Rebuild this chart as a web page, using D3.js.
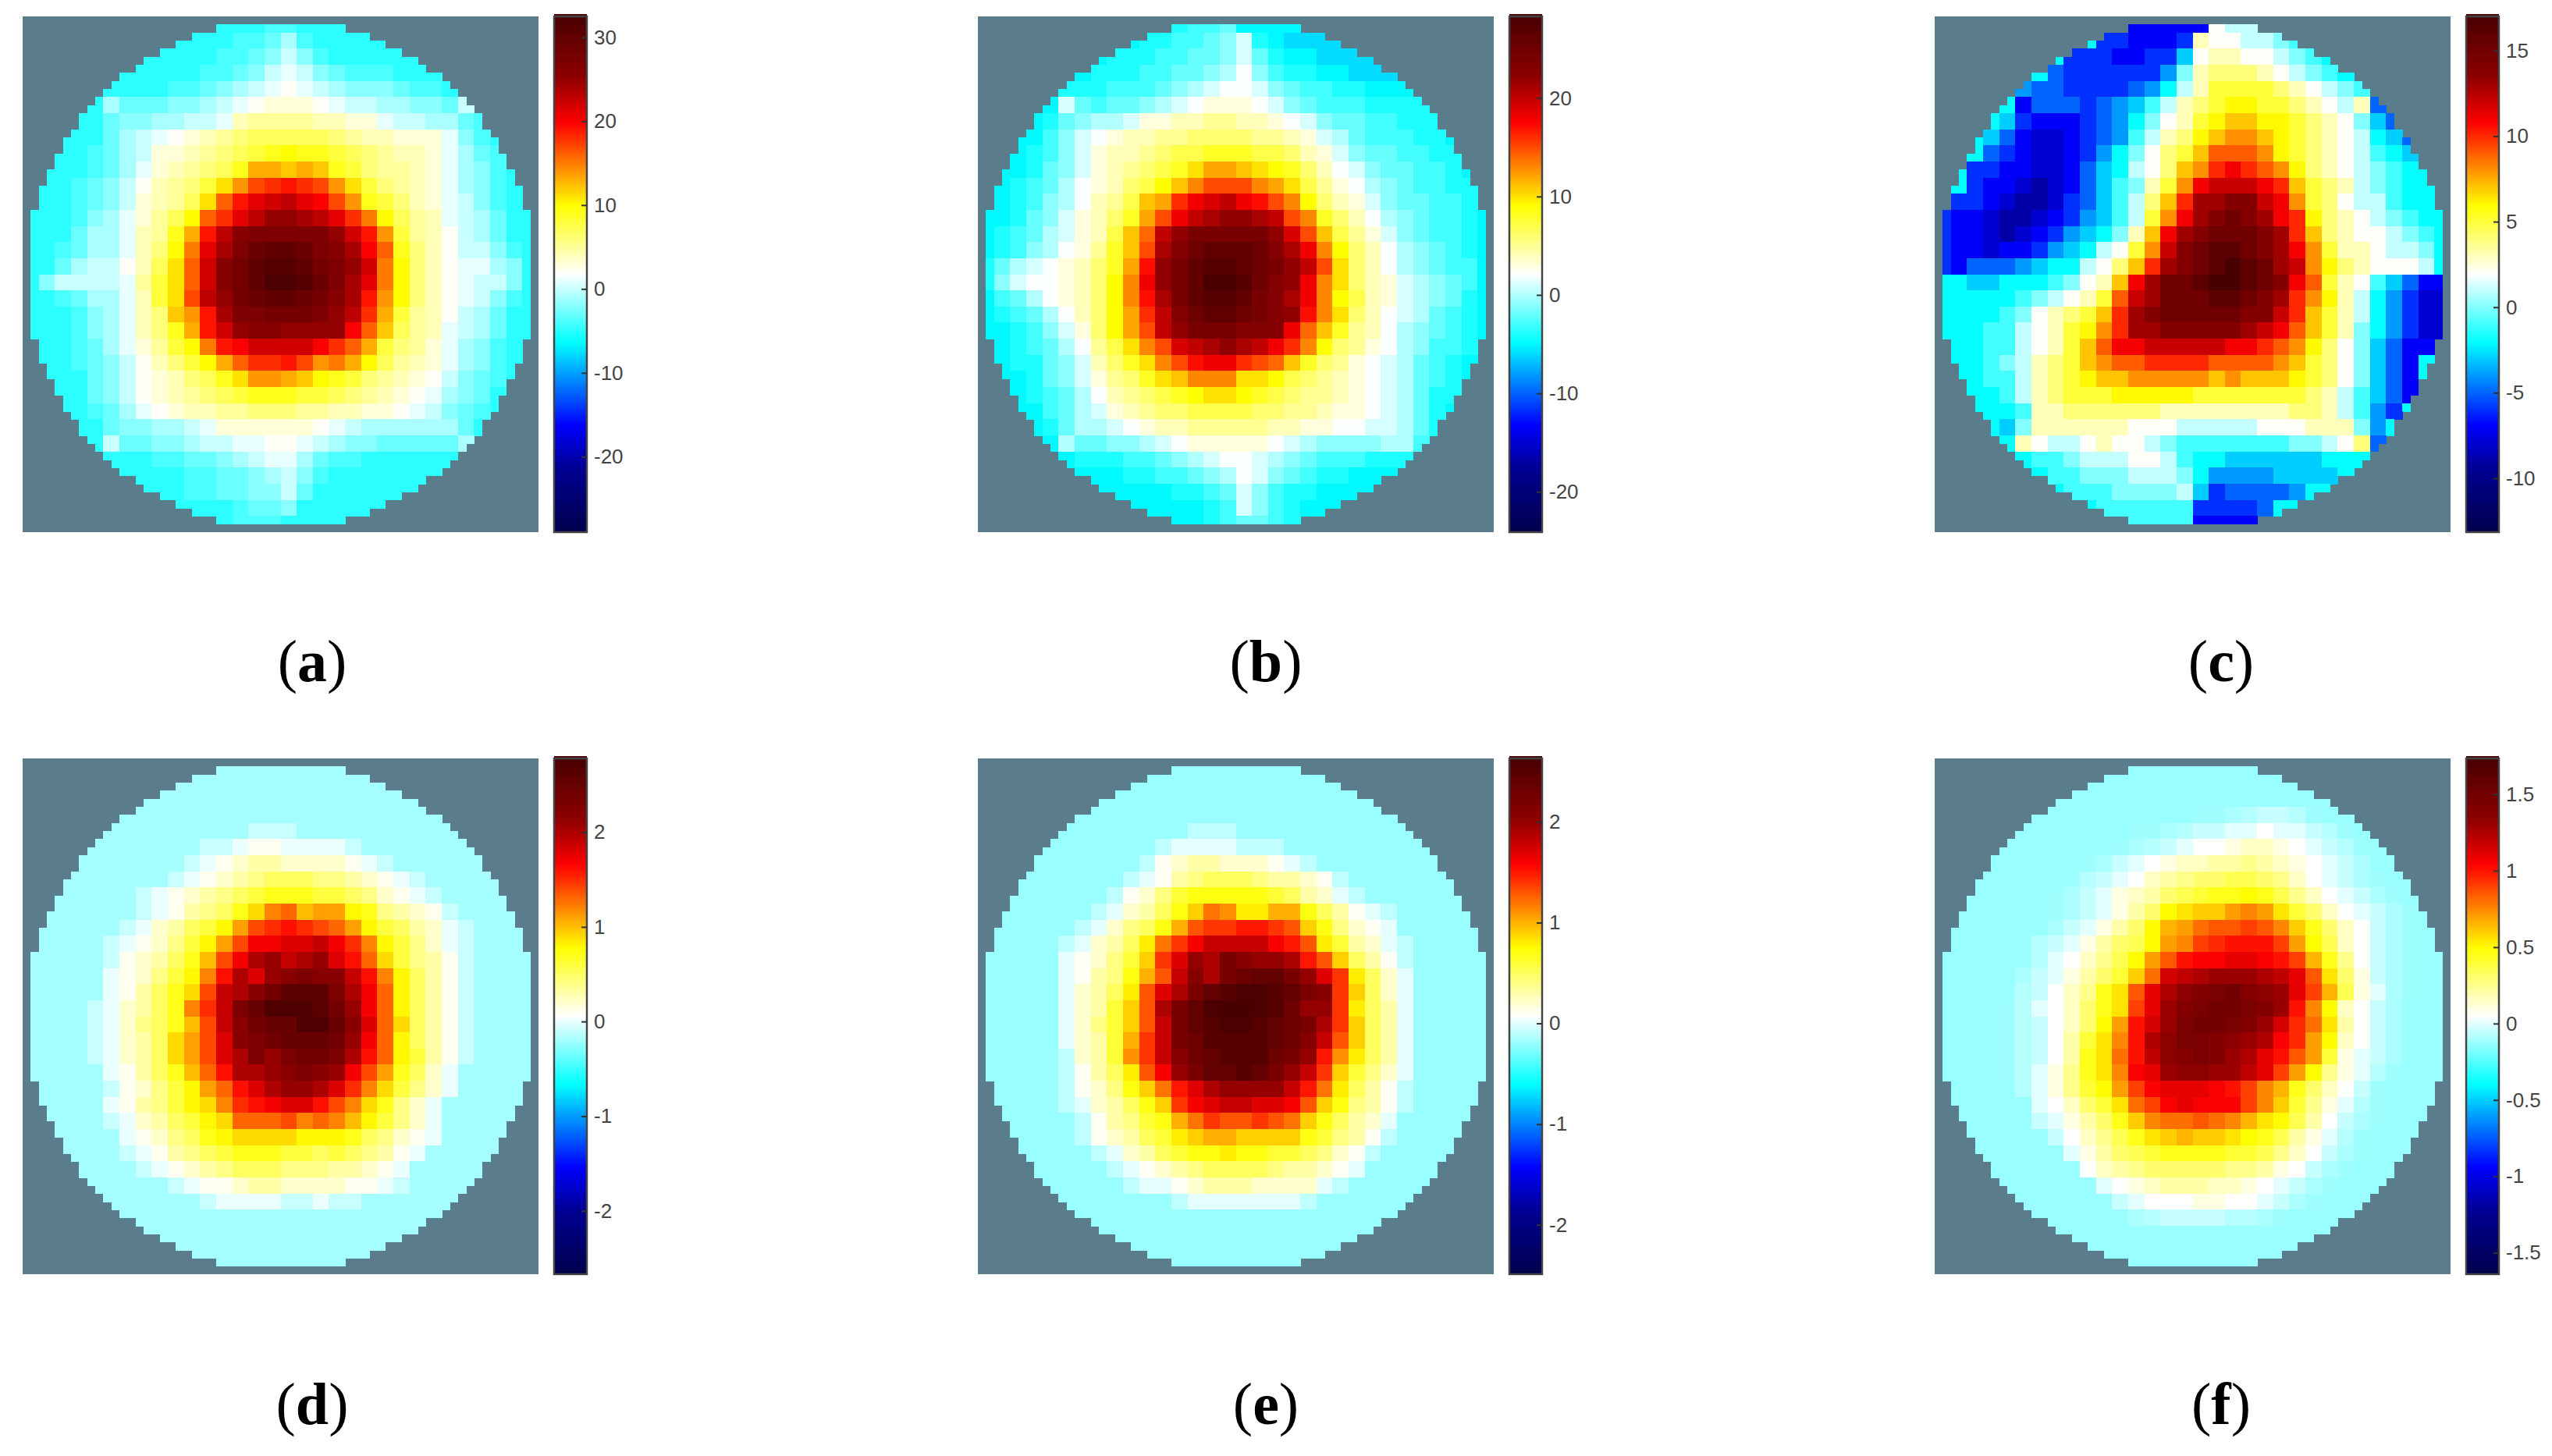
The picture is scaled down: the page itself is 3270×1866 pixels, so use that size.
<!DOCTYPE html>
<html>
<head>
<meta charset="utf-8">
<script src="https://cdn.jsdelivr.net/npm/d3@7"></script>
<style>
  body { margin: 0; background: #fff; }
  .tick text { font-family: "Liberation Sans", Arial, sans-serif; fill: #444; }
</style>
</head>
<body>
<div id="chart"></div>
<script>
// values on a 32x32 grid, in data units
const valuesA = [
[-5,-5,-5,-5,-5,-5,-5,-5,-5,-5,-5,-5,-5,-5,-5,-4,-4,-5,-5,-5,-5,-5,-5,-5,-5,-5,-5,-5,-5,-5,-5,-5],
[-5,-5,-5,-5,-5,-5,-5,-5,-5,-5,-5,-5,-5,-4,-4,-3,-1,-4,-5,-5,-5,-5,-5,-5,-5,-5,-5,-5,-5,-5,-5,-5],
[-5,-5,-5,-5,-5,-5,-5,-5,-5,-5,-5,-5,-4,-4,-3,-2,0,-2,-4,-5,-5,-5,-5,-5,-5,-5,-5,-5,-5,-5,-5,-5],
[-5,-5,-5,-5,-5,-5,-5,-5,-5,-5,-5,-4,-4,-3,-2,0,1,0,-2,-3,-4,-4,-4,-5,-5,-5,-5,-5,-5,-5,-5,-5],
[-5,-5,-5,-5,-5,-5,-5,-5,-5,-4,-4,-3,-2,-1,0,1,2,1,0,-1,-2,-2,-2,-3,-4,-4,-5,-5,-5,-5,-5,-5],
[-5,-5,-5,-5,-5,-1,-3,-3,-3,-2,-2,-1,0,1,2,3,3,3,2,1,0,0,-1,-1,-2,-2,-3,0,-5,-5,-5,-5],
[-5,-5,-5,-5,-5,-3,-2,-2,-1,-1,0,0,1,4,5,5,5,5,4,4,3,3,1,0,0,-1,-1,-3,-4,-5,-5,-5],
[-5,-5,-5,-5,-5,-3,-1,0,1,2,3,4,5,6,7,7,7,7,7,6,5,4,4,3,3,3,1,-2,-4,-5,-5,-5],
[-5,-5,-5,-5,-4,-3,-1,0,3,3,4,5,6,7,8,9,10,9,9,8,7,6,5,4,4,3,1,-1,-3,-4,-5,-5],
[-5,-5,-5,-5,-4,-3,-1,1,3,4,5,6,7,9,13,13,12,13,12,9,8,6,5,5,4,3,1,-1,-2,-4,-5,-5],
[-5,-5,-5,-4,-3,-2,0,2,4,5,6,8,11,14,17,18,19,18,17,14,11,8,6,5,4,3,1,-1,-2,-4,-5,-5],
[-5,-5,-5,-4,-3,-2,0,3,4,5,7,11,16,19,21,22,23,21,20,17,14,9,8,6,4,3,1,0,-2,-4,-5,-5],
[-5,-5,-5,-4,-2,-1,1,3,5,7,10,16,18,21,23,25,25,24,23,21,18,15,10,7,5,4,1,0,-1,-3,-5,-5],
[-5,-5,-5,-3,-1,-1,1,4,5,9,13,19,23,26,27,27,27,27,27,25,22,19,14,8,5,4,2,0,-1,-3,-5,-5],
[-5,-5,-4,-3,-1,-1,1,4,6,10,15,21,24,27,29,30,30,29,27,26,24,20,16,9,6,4,2,0,0,-2,-4,-5],
[-5,-5,-3,-1,0,0,2,4,7,11,16,22,26,28,30,31,31,30,28,27,25,22,15,10,6,4,2,1,1,-1,-2,-5],
[-5,-2,0,0,0,0,1,5,8,11,16,22,26,28,30,32,32,31,29,27,24,21,15,10,6,4,2,1,0,0,-2,-5],
[-5,-5,-4,-3,-1,-1,1,4,8,11,17,23,25,28,29,30,30,29,28,26,24,19,14,10,6,4,2,1,0,-2,-4,-5],
[-5,-5,-5,-4,-2,-1,1,4,6,12,14,19,24,27,27,28,28,28,27,25,23,18,13,8,5,4,2,0,-1,-3,-5,-5],
[-5,-5,-5,-4,-2,-1,1,4,6,9,13,19,22,25,26,26,25,25,25,25,20,16,12,7,5,4,1,0,-1,-3,-5,-5],
[-5,-5,-5,-4,-3,-1,1,3,5,8,10,15,19,20,22,22,22,22,20,18,16,13,8,6,5,3,1,-1,-2,-4,-5,-5],
[-5,-5,-5,-4,-3,-2,0,2,4,6,8,10,13,16,18,18,19,17,14,15,13,10,7,5,4,3,1,-1,-2,-4,-5,-5],
[-5,-5,-5,-5,-3,-2,0,2,3,4,6,7,9,11,14,14,13,12,10,9,8,6,5,4,3,2,0,-2,-3,-4,-5,-5],
[-5,-5,-5,-5,-3,-2,0,2,3,4,5,6,7,8,9,9,9,8,8,7,6,5,4,3,2,1,-1,-2,-3,-5,-5,-5],
[-5,-5,-5,-5,-4,-3,-1,1,2,3,4,4,5,5,6,6,6,5,5,4,4,3,3,2,1,0,-2,-3,-4,-5,-5,-5],
[-5,-5,-5,-5,-5,-3,-2,-2,-1,-1,0,1,3,3,3,3,3,3,2,1,0,-1,-1,-1,-1,-1,-1,-3,-5,-5,-5,-5],
[-5,-5,-5,-5,-5,0,-3,-3,-2,-2,-1,0,0,1,1,2,2,1,0,-1,-2,-2,-3,-3,-3,-3,-3,-1,-5,-5,-5,-5],
[-5,-5,-5,-5,-5,-5,-5,-5,-4,-4,-3,-3,-2,-1,0,1,1,-1,-3,-4,-4,-5,-5,-5,-5,-5,-5,-5,-5,-5,-5,-5],
[-5,-5,-5,-5,-5,-5,-5,-5,-5,-5,-4,-4,-3,-3,-2,-1,0,-2,-4,-5,-5,-5,-5,-5,-5,-5,-5,-5,-5,-5,-5,-5],
[-5,-5,-5,-5,-5,-5,-5,-5,-5,-5,-4,-4,-3,-3,-2,-2,0,-3,-5,-5,-5,-5,-5,-5,-5,-5,-5,-5,-5,-5,-5,-5],
[-5,-5,-5,-5,-5,-5,-5,-5,-5,-5,-5,-5,-5,-4,-3,-3,-2,-5,-5,-5,-5,-5,-5,-5,-5,-5,-5,-5,-5,-5,-5,-5],
[-5,-5,-5,-5,-5,-5,-5,-5,-5,-5,-5,-5,-5,-4,-4,-4,-5,-5,-5,-5,-5,-5,-5,-5,-5,-5,-5,-5,-5,-5,-5,-5]
];
const valuesB = [
[-5,-5,-5,-5,-5,-5,-5,-5,-5,-5,-5,-5,-4,-3,-3,-2,-5,-5,-5,-5,-5,-5,-5,-5,-5,-5,-5,-5,-5,-5,-5,-5],
[-5,-5,-5,-5,-5,-5,-5,-5,-5,-5,-4,-4,-3,-3,-2,-1,1,-4,-5,-6,-6,-6,-6,-5,-5,-5,-5,-5,-5,-5,-5,-5],
[-5,-5,-5,-5,-5,-5,-5,-5,-4,-4,-4,-3,-3,-2,-2,-1,1,-2,-4,-5,-5,-6,-6,-6,-6,-5,-5,-5,-5,-5,-5,-5],
[-5,-5,-5,-5,-5,-5,-5,-4,-4,-4,-3,-3,-2,-2,-1,0,2,-1,-3,-4,-4,-5,-5,-6,-6,-6,-5,-5,-5,-5,-5,-5],
[-5,-5,-5,-5,-5,-4,-4,-4,-3,-3,-3,-2,-1,0,1,2,2,1,-1,-2,-3,-3,-4,-4,-5,-5,-5,-5,-5,-5,-5,-5],
[-5,-5,-5,-5,-5,1,-2,-3,-2,-2,-1,0,1,2,3,3,3,2,1,-1,-2,-3,-3,-3,-4,-4,-4,-4,-5,-5,-5,-5],
[-5,-5,-5,-5,-4,-2,-1,0,0,1,3,3,4,4,5,5,4,4,3,2,1,-1,-2,-2,-3,-3,-4,-4,-4,-5,-5,-5],
[-5,-5,-5,-5,-3,-1,1,2,3,4,4,5,5,6,6,6,6,5,5,4,3,1,0,-2,-3,-3,-3,-4,-4,-5,-5,-5],
[-5,-5,-5,-4,-3,-1,1,3,4,4,5,6,7,7,8,8,8,7,7,6,4,3,1,-1,-2,-2,-3,-3,-4,-4,-5,-5],
[-5,-5,-5,-4,-2,-1,1,3,4,5,6,7,8,10,12,12,11,10,9,8,6,4,2,1,-1,-2,-2,-3,-3,-4,-5,-5],
[-5,-5,-4,-3,-2,0,2,3,4,6,7,9,11,13,15,15,15,13,12,10,7,5,3,2,0,-1,-2,-3,-3,-4,-4,-5],
[-5,-5,-4,-3,-1,0,2,4,5,7,11,12,16,18,19,20,18,17,15,13,9,6,4,3,1,-1,-2,-2,-3,-3,-4,-5],
[-5,-5,-4,-2,-1,1,3,4,6,8,12,15,18,20,21,22,22,21,20,15,13,8,6,4,2,0,-1,-2,-3,-3,-4,-5],
[-5,-4,-3,-2,0,1,3,4,7,11,14,20,22,24,24,24,24,24,22,19,15,11,7,5,3,1,-1,-2,-3,-3,-4,-5],
[-5,-4,-3,-1,0,2,3,5,8,11,15,21,23,25,26,26,26,25,23,21,18,13,9,6,4,2,0,-1,-2,-3,-4,-5],
[-4,-2,0,1,2,3,4,6,8,12,17,22,24,26,27,27,26,25,24,22,20,15,10,6,4,2,0,-1,-2,-3,-3,-5],
[-4,-1,1,2,2,3,4,6,9,13,18,22,24,26,28,28,27,25,23,22,18,13,10,6,4,3,1,0,-1,-2,-3,-5],
[-5,-3,-2,0,2,3,4,6,9,13,17,21,24,26,27,27,26,24,23,21,18,13,9,7,4,3,1,0,-1,-2,-4,-5],
[-5,-4,-3,-2,0,2,4,6,9,12,16,20,23,25,26,26,25,24,23,22,17,13,10,6,4,2,1,0,-2,-3,-4,-5],
[-5,-5,-4,-3,-1,1,3,6,9,12,15,20,22,24,24,24,23,23,23,18,14,11,8,5,4,2,0,-1,-2,-3,-4,-5],
[-5,-5,-4,-3,-2,0,2,5,7,10,13,15,19,20,21,22,21,20,18,16,13,9,6,5,3,2,0,-1,-3,-3,-4,-5],
[-5,-5,-4,-4,-2,-1,1,4,6,8,10,13,15,17,18,18,16,15,14,11,8,6,5,3,2,1,0,-2,-3,-4,-5,-5],
[-5,-5,-5,-4,-2,-1,1,3,5,6,8,10,11,13,13,13,10,10,9,7,6,5,4,3,2,1,0,-2,-3,-4,-5,-5],
[-5,-5,-5,-4,-3,-2,0,2,4,5,6,7,8,9,10,10,9,8,7,6,5,5,4,3,2,1,0,-2,-4,-4,-5,-5],
[-5,-5,-5,-5,-3,-2,0,1,3,4,5,6,6,7,7,7,7,6,6,5,5,4,3,3,2,1,0,-2,-4,-5,-5,-5],
[-5,-5,-5,-5,-4,-2,0,0,1,2,3,4,4,5,5,5,5,5,4,4,3,3,2,2,1,1,0,-2,-4,-5,-5,-5],
[-5,-5,-5,-5,-5,0,-2,-2,-1,-1,0,1,2,3,3,3,3,3,2,1,0,-1,-1,-1,-1,0,0,-3,-5,-5,-5,-5],
[-5,-5,-5,-5,-5,-5,-4,-4,-4,-3,-3,-2,-1,0,1,2,2,1,0,-1,-2,-3,-3,-3,-4,-4,-4,-5,-5,-5,-5,-5],
[-5,-5,-5,-5,-5,-5,-5,-5,-5,-4,-4,-3,-3,-2,-1,0,2,1,-1,-2,-3,-4,-4,-5,-5,-5,-5,-5,-5,-5,-5,-5],
[-5,-5,-5,-5,-5,-5,-5,-5,-5,-5,-5,-5,-4,-4,-3,-2,1,-1,-3,-4,-4,-5,-5,-5,-5,-5,-5,-5,-5,-5,-5,-5],
[-5,-5,-5,-5,-5,-5,-5,-5,-5,-5,-5,-5,-5,-5,-4,-3,1,-1,-3,-4,-5,-5,-5,-5,-5,-5,-5,-5,-5,-5,-5,-5],
[-5,-5,-5,-5,-5,-5,-5,-5,-5,-5,-5,-5,-5,-5,-4,-3,-2,-2,-3,-4,-5,-5,-5,-5,-5,-5,-5,-5,-5,-5,-5,-5]
];
const valuesC = [
[-2,-2,-2,-2,-2,-2,-2,-2,-2,-2,-2,-2,-7,-7,-7,-7,-7,2,1,1,0,0,-2,-2,-2,-2,-2,-2,-2,-2,-2,-2],
[-2,-2,-2,-2,-2,-2,-2,-2,-2,-2,-6,-6,-7,-7,-7,-6,3,2,2,1,1,0,-1,-2,-2,-2,-2,-2,-2,-2,-2,-2],
[-2,-2,-2,-2,-2,-2,-2,-2,-6,-6,-6,-7,-7,-6,-6,-3,2,3,3,2,2,1,0,-1,-2,-2,-2,-2,-2,-2,-2,-2],
[-2,-2,-2,-2,-2,-2,-2,-5,-6,-6,-6,-6,-6,-6,-4,0,3,4,4,4,3,2,1,0,-1,-2,-2,-2,-2,-2,-2,-2],
[-2,-2,-2,-2,-2,-4,-5,-5,-6,-6,-6,-6,-5,-4,-2,1,3,5,5,5,5,4,3,2,1,0,-1,-2,-2,-2,-2,-2],
[-2,-2,-2,-2,-2,-7,-5,-5,-5,-6,-5,-4,-3,-1,1,3,4,5,6,6,5,5,4,3,2,1,3,-5,-4,-2,-2,-2],
[-2,-2,-2,-2,-3,-6,-7,-7,-7,-6,-5,-4,-2,0,2,3,5,6,7,7,6,6,5,4,3,2,0,-3,-5,-2,-2,-2],
[-2,-2,-2,-3,-5,-7,-8,-8,-7,-6,-5,-4,-1,1,3,4,6,7,8,8,7,6,5,4,3,2,1,-2,-3,-5,-2,-2],
[-2,-2,-2,-5,-6,-7,-8,-8,-7,-6,-4,-2,0,2,4,5,7,9,9,9,8,6,5,4,3,2,1,-1,-2,-3,-2,-2],
[-2,-2,-6,-6,-7,-7,-8,-8,-7,-5,-3,-2,1,2,4,7,8,10,11,10,9,8,6,4,3,2,1,0,-1,-2,-2,-2],
[-2,-2,-6,-7,-7,-8,-9,-8,-7,-5,-3,-1,0,3,5,8,11,12,12,12,11,10,7,5,4,3,1,0,-1,-2,-2,-2],
[-2,-6,-6,-7,-8,-9,-9,-8,-6,-5,-3,-1,1,4,7,10,13,13,14,14,12,11,8,5,4,2,1,1,-1,-2,-2,-2],
[-6,-7,-7,-8,-9,-9,-8,-7,-6,-4,-3,-1,1,5,8,11,13,14,15,14,13,11,10,6,4,3,2,1,0,-1,-2,-2],
[-6,-7,-7,-8,-9,-8,-7,-6,-4,-3,-2,0,3,7,11,13,14,15,15,15,14,13,10,7,4,3,2,2,1,0,-1,-2],
[-6,-7,-7,-8,-7,-7,-6,-4,-3,-2,1,2,5,8,12,14,15,16,16,15,14,13,11,8,5,3,3,2,1,1,0,-2],
[-6,-7,-5,-5,-5,-4,-3,-2,-2,1,2,4,7,10,13,14,15,16,17,16,15,13,12,8,6,4,3,2,2,2,1,-2],
[-2,-2,-3,-3,-2,-2,-2,-1,0,2,3,7,11,13,15,15,16,17,17,16,15,14,11,9,5,3,2,-1,-3,-5,-7,-7],
[-2,-2,-2,-2,-2,-1,0,1,2,3,5,9,12,13,15,15,15,16,16,15,14,13,10,8,6,3,1,-2,-4,-6,-8,-8],
[-2,-2,-2,-2,-1,0,2,3,4,5,7,10,13,14,15,15,15,15,15,14,14,12,10,7,5,3,1,-2,-4,-6,-8,-8],
[-2,-2,-2,-1,-1,1,2,3,5,6,8,10,13,13,14,14,14,14,14,13,12,11,9,7,5,3,0,-2,-4,-6,-8,-8],
[-2,-2,-2,-1,-1,1,2,3,5,7,9,11,11,12,12,12,12,12,11,11,10,9,8,6,4,2,0,-3,-5,-7,-7,-2],
[-2,-2,-2,-1,0,1,3,4,5,7,8,9,9,10,10,10,10,9,9,9,9,8,7,5,4,2,0,-3,-5,-7,-2,-2],
[-2,-2,-2,-1,-1,1,3,4,5,6,7,7,8,8,8,8,8,7,8,7,7,7,6,5,4,2,0,-3,-5,-7,-2,-2],
[-2,-2,-2,-2,-1,1,3,4,5,5,5,6,6,6,6,6,5,5,5,5,5,5,5,4,3,1,-1,-3,-5,-7,-2,-2],
[-2,-2,-2,-2,-2,-1,3,3,4,4,4,4,4,4,3,3,3,3,3,3,3,3,4,4,3,1,-1,-4,-6,-2,-2,-2],
[-2,-2,-2,-2,-3,0,3,3,3,3,3,3,2,2,2,1,1,1,1,1,2,2,2,3,3,3,0,-4,-2,-2,-2,-2],
[-2,-2,-2,-2,-2,3,2,1,1,2,3,2,2,1,0,-1,-1,-1,-1,-1,-1,-1,0,0,1,2,4,-5,-2,-2,-2,-2],
[-2,-2,-2,-2,-2,-2,-1,-1,0,1,1,1,2,2,1,-1,-2,-2,-3,-3,-3,-3,-3,-3,-2,-2,-2,-2,-2,-2,-2,-2],
[-2,-2,-2,-2,-2,-2,-2,-1,-1,0,0,0,1,1,1,0,-2,-4,-4,-4,-4,-3,-3,-3,-3,-2,-2,-2,-2,-2,-2,-2],
[-2,-2,-2,-2,-2,-2,-2,-2,-1,-1,-1,0,0,0,0,1,-3,-6,-5,-5,-5,-5,-4,-2,-2,-2,-2,-2,-2,-2,-2,-2],
[-2,-2,-2,-2,-2,-2,-2,-2,-2,-2,-1,-1,-1,-1,-1,-1,-6,-6,-6,-6,-5,-2,-2,-2,-2,-2,-2,-2,-2,-2,-2,-2],
[-2,-2,-2,-2,-2,-2,-2,-2,-2,-2,-2,-2,-1,-1,-1,-1,-7,-7,-7,-7,-2,-2,-2,-2,-2,-2,-2,-2,-2,-2,-2,-2]
];
// tenths of a unit
const valuesD = [
[-2,-2,-2,-2,-2,-2,-2,-2,-2,-2,-2,-2,-2,-2,-2,-2,-2,-2,-2,-2,-2,-2,-2,-2,-2,-2,-2,-2,-2,-2,-2,-2],
[-2,-2,-2,-2,-2,-2,-2,-2,-2,-2,-2,-2,-2,-2,-2,-2,-2,-2,-2,-2,-2,-2,-2,-2,-2,-2,-2,-2,-2,-2,-2,-2],
[-2,-2,-2,-2,-2,-2,-2,-2,-2,-2,-2,-2,-2,-2,-2,-2,-2,-2,-2,-2,-2,-2,-2,-2,-2,-2,-2,-2,-2,-2,-2,-2],
[-2,-2,-2,-2,-2,-2,-2,-2,-2,-2,-2,-2,-2,-2,-2,-2,-2,-2,-2,-2,-2,-2,-2,-2,-2,-2,-2,-2,-2,-2,-2,-2],
[-2,-2,-2,-2,-2,-2,-2,-2,-2,-2,-2,-2,-2,-2,-1,-1,-1,-2,-2,-2,-2,-2,-2,-2,-2,-2,-2,-2,-2,-2,-2,-2],
[-2,-2,-2,-2,-2,-2,-2,-2,-2,-2,-2,-1,-1,0,1,1,0,0,0,0,-1,-2,-2,-2,-2,-2,-2,-2,-2,-2,-2,-2],
[-2,-2,-2,-2,-2,-2,-2,-2,-2,-2,-1,0,1,2,3,3,2,2,2,2,1,0,-1,-2,-2,-2,-2,-2,-2,-2,-2,-2],
[-2,-2,-2,-2,-2,-2,-2,-2,-2,-1,0,1,2,3,4,5,5,5,4,4,3,2,1,0,-1,-2,-2,-2,-2,-2,-2,-2],
[-2,-2,-2,-2,-2,-2,-2,-1,0,1,2,3,4,5,6,7,7,7,6,6,5,4,2,1,0,-1,-2,-2,-2,-2,-2,-2],
[-2,-2,-2,-2,-2,-2,-2,-1,0,1,3,4,5,7,9,12,13,10,11,11,8,7,4,3,2,1,-1,-2,-2,-2,-2,-2],
[-2,-2,-2,-2,-2,-2,-1,0,2,3,5,6,8,11,14,15,16,15,14,13,11,8,6,5,3,2,0,-1,-2,-2,-2,-2],
[-2,-2,-2,-2,-2,-1,0,1,2,4,6,8,11,14,17,17,18,18,19,17,15,12,8,6,4,2,0,-1,-2,-2,-2,-2],
[-2,-2,-2,-2,-2,-1,1,2,3,5,7,10,14,17,20,21,19,20,21,18,16,13,9,6,4,3,1,-1,-2,-2,-2,-2],
[-2,-2,-2,-2,-2,0,1,2,4,6,8,12,16,20,18,21,22,23,22,22,19,16,12,8,5,3,1,-1,-2,-2,-2,-2],
[-2,-2,-2,-2,-2,0,1,3,5,7,9,14,19,20,22,24,26,26,26,23,20,17,13,8,5,3,1,-1,-2,-2,-2,-2],
[-2,-2,-2,-2,-1,0,2,3,5,7,12,15,19,23,25,27,27,27,26,24,21,17,13,8,5,3,1,-1,-2,-2,-2,-2],
[-2,-2,-2,-2,-1,0,2,4,5,7,10,14,19,22,24,25,25,27,27,25,22,18,13,9,5,3,1,-1,-2,-2,-2,-2],
[-2,-2,-2,-2,-1,0,2,3,5,9,11,14,18,22,23,24,25,25,25,24,21,17,13,8,5,3,1,-1,-2,-2,-2,-2],
[-2,-2,-2,-2,-1,0,2,3,5,9,11,14,18,20,23,21,23,24,24,23,20,16,13,8,6,3,1,-1,-2,-2,-2,-2],
[-2,-2,-2,-2,-2,0,1,3,5,7,10,13,16,20,20,21,22,23,22,21,17,14,11,7,5,2,0,-2,-2,-2,-2,-2],
[-2,-2,-2,-2,-2,-1,1,2,4,6,8,11,13,16,18,20,21,21,20,18,15,12,9,6,4,2,0,-2,-2,-2,-2,-2],
[-2,-2,-2,-2,-2,0,1,3,4,6,8,9,12,15,16,17,18,18,16,14,12,9,7,4,2,0,-2,-2,-2,-2,-2,-2],
[-2,-2,-2,-2,-2,-1,0,2,3,5,6,8,9,13,13,13,14,12,13,12,10,8,6,4,2,0,-2,-2,-2,-2,-2,-2],
[-2,-2,-2,-2,-2,-2,0,1,2,4,5,7,8,9,9,9,9,8,8,8,7,5,4,2,1,0,-2,-2,-2,-2,-2,-2],
[-2,-2,-2,-2,-2,-2,-1,0,1,3,4,5,6,7,7,7,6,6,5,6,5,4,3,1,0,-2,-2,-2,-2,-2,-2,-2],
[-2,-2,-2,-2,-2,-2,-2,-1,0,1,2,3,4,5,5,5,4,4,4,3,3,2,1,0,-2,-2,-2,-2,-2,-2,-2,-2],
[-2,-2,-2,-2,-2,-2,-2,-2,-2,-1,0,1,1,2,3,3,2,2,2,2,1,1,0,-1,-2,-2,-2,-2,-2,-2,-2,-2],
[-2,-2,-2,-2,-2,-2,-2,-2,-2,-2,-2,-1,0,0,0,0,-1,-1,0,-1,-1,-2,-2,-2,-2,-2,-2,-2,-2,-2,-2,-2],
[-2,-2,-2,-2,-2,-2,-2,-2,-2,-2,-2,-2,-2,-2,-2,-2,-2,-2,-2,-2,-2,-2,-2,-2,-2,-2,-2,-2,-2,-2,-2,-2],
[-2,-2,-2,-2,-2,-2,-2,-2,-2,-2,-2,-2,-2,-2,-2,-2,-2,-2,-2,-2,-2,-2,-2,-2,-2,-2,-2,-2,-2,-2,-2,-2],
[-2,-2,-2,-2,-2,-2,-2,-2,-2,-2,-2,-2,-2,-2,-2,-2,-2,-2,-2,-2,-2,-2,-2,-2,-2,-2,-2,-2,-2,-2,-2,-2],
[-2,-2,-2,-2,-2,-2,-2,-2,-2,-2,-2,-2,-2,-2,-2,-2,-2,-2,-2,-2,-2,-2,-2,-2,-2,-2,-2,-2,-2,-2,-2,-2]
];
const valuesE = [
[-2,-2,-2,-2,-2,-2,-2,-2,-2,-2,-2,-2,-2,-2,-2,-2,-2,-2,-2,-2,-2,-2,-2,-2,-2,-2,-2,-2,-2,-2,-2,-2],
[-2,-2,-2,-2,-2,-2,-2,-2,-2,-2,-2,-2,-2,-2,-2,-2,-2,-2,-2,-2,-2,-2,-2,-2,-2,-2,-2,-2,-2,-2,-2,-2],
[-2,-2,-2,-2,-2,-2,-2,-2,-2,-2,-2,-2,-2,-2,-2,-2,-2,-2,-2,-2,-2,-2,-2,-2,-2,-2,-2,-2,-2,-2,-2,-2],
[-2,-2,-2,-2,-2,-2,-2,-2,-2,-2,-2,-2,-2,-2,-2,-2,-2,-2,-2,-2,-2,-2,-2,-2,-2,-2,-2,-2,-2,-2,-2,-2],
[-2,-2,-2,-2,-2,-2,-2,-2,-2,-2,-2,-2,-2,-1,-1,-1,-2,-2,-2,-2,-2,-2,-2,-2,-2,-2,-2,-2,-2,-2,-2,-2],
[-2,-2,-2,-2,-2,-2,-2,-2,-2,-2,-2,-1,0,0,0,0,-1,-1,-1,-2,-2,-2,-2,-2,-2,-2,-2,-2,-2,-2,-2,-2],
[-2,-2,-2,-2,-2,-2,-2,-2,-2,-2,-1,1,2,3,3,2,2,2,1,0,-1,-2,-2,-2,-2,-2,-2,-2,-2,-2,-2,-2],
[-2,-2,-2,-2,-2,-2,-2,-2,-2,-1,0,1,3,4,5,5,5,4,3,3,2,1,-1,-2,-2,-2,-2,-2,-2,-2,-2,-2],
[-2,-2,-2,-2,-2,-2,-2,-2,-1,1,2,4,6,7,7,7,7,7,6,5,3,2,0,-1,-2,-2,-2,-2,-2,-2,-2,-2],
[-2,-2,-2,-2,-2,-2,-2,-1,0,2,3,5,7,9,12,11,8,8,10,10,7,5,3,1,0,-1,-2,-2,-2,-2,-2,-2],
[-2,-2,-2,-2,-2,-2,-1,0,2,4,5,7,10,13,14,14,15,15,14,13,9,7,4,2,1,0,-2,-2,-2,-2,-2,-2],
[-2,-2,-2,-2,-2,-1,0,2,3,5,8,12,14,16,18,18,18,18,16,15,13,8,6,3,2,0,-1,-2,-2,-2,-2,-2],
[-2,-2,-2,-2,-2,0,1,2,4,6,9,14,17,20,19,22,21,20,20,19,15,13,9,5,3,1,-1,-2,-2,-2,-2,-2],
[-2,-2,-2,-2,-2,0,1,3,4,7,10,13,18,21,19,22,23,24,24,22,20,17,14,8,5,2,0,-2,-2,-2,-2,-2],
[-2,-2,-2,-2,-2,0,2,3,5,8,13,17,19,22,24,25,26,26,25,24,22,21,14,9,5,2,0,-2,-2,-2,-2,-2],
[-2,-2,-2,-2,-2,0,2,3,6,9,13,19,22,24,26,27,27,26,25,23,20,20,14,8,5,3,0,-2,-2,-2,-2,-2],
[-2,-2,-2,-2,-2,0,2,4,6,9,13,18,22,24,25,26,26,25,24,23,22,19,14,9,5,3,0,-2,-2,-2,-2,-2],
[-2,-2,-2,-2,-2,0,2,3,6,10,14,18,22,23,25,25,25,25,24,23,21,18,13,9,5,3,0,-2,-2,-2,-2,-2],
[-2,-2,-2,-2,-2,-1,2,3,6,11,14,18,21,23,24,25,25,25,23,22,20,15,11,8,5,3,0,-2,-2,-2,-2,-2],
[-2,-2,-2,-2,-2,-1,1,3,5,8,13,16,20,22,24,24,25,24,22,20,18,14,9,6,4,2,0,-2,-2,-2,-2,-2],
[-2,-2,-2,-2,-2,-1,1,2,4,7,9,12,15,17,19,20,20,20,20,18,15,12,8,5,3,1,-1,-2,-2,-2,-2,-2],
[-2,-2,-2,-2,-2,-1,0,2,3,5,7,9,14,16,17,18,18,17,17,16,13,9,7,4,3,1,-1,-2,-2,-2,-2,-2],
[-2,-2,-2,-2,-2,-2,-1,1,3,4,6,7,10,12,14,13,13,14,13,12,9,7,5,3,2,0,-2,-2,-2,-2,-2,-2],
[-2,-2,-2,-2,-2,-2,-1,1,2,3,5,6,8,9,10,10,9,9,9,9,7,6,4,3,1,-1,-2,-2,-2,-2,-2,-2],
[-2,-2,-2,-2,-2,-2,-2,-1,0,2,3,5,6,7,7,8,7,7,6,6,5,4,2,1,-1,-2,-2,-2,-2,-2,-2,-2],
[-2,-2,-2,-2,-2,-2,-2,-2,-1,0,1,2,3,4,5,5,5,5,4,3,3,2,1,0,-2,-2,-2,-2,-2,-2,-2,-2],
[-2,-2,-2,-2,-2,-2,-2,-2,-2,-1,0,0,1,2,3,3,3,2,2,2,2,0,-1,-2,-2,-2,-2,-2,-2,-2,-2,-2],
[-2,-2,-2,-2,-2,-2,-2,-2,-2,-2,-2,-2,-1,0,0,0,0,0,0,0,-1,-2,-2,-2,-2,-2,-2,-2,-2,-2,-2,-2],
[-2,-2,-2,-2,-2,-2,-2,-2,-2,-2,-2,-2,-2,-2,-2,-2,-2,-2,-2,-2,-2,-2,-2,-2,-2,-2,-2,-2,-2,-2,-2,-2],
[-2,-2,-2,-2,-2,-2,-2,-2,-2,-2,-2,-2,-2,-2,-2,-2,-2,-2,-2,-2,-2,-2,-2,-2,-2,-2,-2,-2,-2,-2,-2,-2],
[-2,-2,-2,-2,-2,-2,-2,-2,-2,-2,-2,-2,-2,-2,-2,-2,-2,-2,-2,-2,-2,-2,-2,-2,-2,-2,-2,-2,-2,-2,-2,-2],
[-2,-2,-2,-2,-2,-2,-2,-2,-2,-2,-2,-2,-2,-2,-2,-2,-2,-2,-2,-2,-2,-2,-2,-2,-2,-2,-2,-2,-2,-2,-2,-2]
];
// hundredths of a unit
const valuesF = [
[-13,-13,-13,-13,-13,-13,-13,-13,-13,-13,-13,-13,-13,-13,-13,-13,-13,-13,-13,-13,-13,-13,-13,-13,-13,-13,-13,-13,-13,-13,-13,-13],
[-13,-13,-13,-13,-13,-13,-13,-13,-13,-13,-13,-13,-13,-13,-13,-13,-13,-13,-13,-13,-13,-13,-13,-13,-13,-13,-13,-13,-13,-13,-13,-13],
[-13,-13,-13,-13,-13,-13,-13,-13,-13,-13,-13,-13,-13,-13,-13,-13,-13,-13,-13,-13,-13,-13,-13,-13,-13,-13,-13,-13,-13,-13,-13,-13],
[-13,-13,-13,-13,-13,-13,-13,-13,-13,-13,-13,-13,-13,-13,-13,-13,-12,-12,-10,-8,-5,-5,-8,-12,-13,-13,-13,-13,-13,-13,-13,-13],
[-13,-13,-13,-13,-13,-13,-13,-13,-13,-13,-13,-13,-12,-12,-10,-8,-5,-5,0,0,5,0,0,-5,-8,-12,-13,-13,-13,-13,-13,-13],
[-13,-13,-13,-13,-13,-13,-13,-13,-13,-13,-13,-12,-10,-8,-5,0,5,5,10,15,15,10,5,0,-5,-8,-12,-13,-13,-13,-13,-13],
[-13,-13,-13,-13,-13,-13,-13,-13,-13,-12,-10,-5,0,5,10,15,15,20,20,25,20,15,10,5,0,-5,-10,-13,-13,-13,-13,-13],
[-13,-13,-13,-13,-13,-13,-13,-13,-12,-8,-5,0,5,15,20,25,30,30,35,35,30,25,15,5,0,-5,-10,-12,-13,-13,-13,-13],
[-13,-13,-13,-13,-13,-13,-13,-12,-10,-5,0,10,15,20,30,35,40,45,45,50,45,35,25,15,5,0,-5,-10,-12,-13,-13,-13],
[-13,-13,-13,-13,-13,-13,-13,-12,-10,-5,0,10,20,30,50,55,60,60,70,75,70,55,40,30,15,5,0,-5,-10,-12,-13,-13],
[-13,-13,-13,-13,-13,-13,-13,-10,-5,0,10,20,30,50,65,70,80,85,85,90,85,75,60,45,30,15,5,-5,-10,-12,-13,-13],
[-13,-13,-13,-13,-13,-12,-8,-5,0,10,20,30,35,50,70,75,90,95,100,100,100,90,70,50,35,15,5,-5,-10,-12,-13,-13],
[-13,-13,-13,-13,-13,-12,-8,0,5,15,25,35,50,70,85,100,105,105,110,110,105,100,90,65,45,25,5,-5,-10,-12,-13,-13],
[-13,-13,-13,-13,-13,-10,-5,0,10,20,30,40,60,80,115,120,125,130,130,130,125,120,110,85,55,30,10,-5,-10,-12,-13,-13],
[-13,-13,-13,-13,-13,-8,-5,5,15,25,45,55,85,110,125,135,140,145,150,140,135,130,110,90,65,35,10,0,-10,-12,-13,-13],
[-13,-13,-13,-13,-12,-8,0,5,15,30,45,55,90,110,130,140,145,150,150,145,140,130,100,75,50,15,5,-5,-10,-13,-13,-13],
[-13,-13,-13,-13,-12,-8,-5,5,15,30,50,70,100,115,130,145,150,150,145,140,130,115,95,80,55,20,5,-5,-10,-13,-13,-13],
[-13,-13,-13,-13,-12,-8,-5,5,20,40,55,75,100,125,135,145,145,140,135,130,125,105,95,70,50,15,5,-5,-10,-13,-13,-13],
[-13,-13,-13,-13,-12,-8,-5,5,20,45,55,80,100,120,135,140,145,140,130,125,110,100,85,70,40,10,0,-5,-10,-13,-13,-13],
[-13,-13,-13,-13,-12,-8,0,10,25,45,55,75,105,110,130,135,135,130,130,120,110,90,70,50,25,10,0,-8,-12,-13,-13,-13],
[-13,-13,-13,-13,-13,-8,0,10,25,40,50,70,90,105,110,110,110,105,100,90,75,65,45,30,15,5,-5,-12,-13,-13,-13,-13],
[-13,-13,-13,-13,-13,-13,0,5,15,30,40,55,80,90,105,110,105,105,105,90,75,60,40,25,10,0,-8,-12,-13,-13,-13,-13],
[-13,-13,-13,-13,-13,-13,-5,0,10,20,30,45,60,75,80,80,85,80,75,65,55,50,35,20,5,-5,-10,-12,-13,-13,-13,-13],
[-13,-13,-13,-13,-13,-13,-13,-5,5,15,25,35,45,55,60,65,60,60,55,50,45,35,20,10,0,-8,-12,-13,-13,-13,-13,-13],
[-13,-13,-13,-13,-13,-13,-13,-13,0,10,20,30,35,40,45,45,45,45,40,40,35,25,15,5,-5,-10,-12,-13,-13,-13,-13,-13],
[-13,-13,-13,-13,-13,-13,-13,-13,-13,5,15,20,25,30,30,30,30,30,25,25,20,10,5,-5,-10,-12,-13,-13,-13,-13,-13,-13],
[-13,-13,-13,-13,-13,-13,-13,-13,-13,-13,0,5,10,15,20,20,20,15,15,10,5,0,-5,-10,-12,-13,-13,-13,-13,-13,-13,-13],
[-13,-13,-13,-13,-13,-13,-13,-13,-13,-13,-13,-5,0,5,5,5,10,10,5,5,0,-5,-10,-12,-13,-13,-13,-13,-13,-13,-13,-13],
[-13,-13,-13,-13,-13,-13,-13,-13,-13,-13,-13,-13,-10,-8,-5,-5,-5,-5,-8,-8,-10,-12,-13,-13,-13,-13,-13,-13,-13,-13,-13,-13],
[-13,-13,-13,-13,-13,-13,-13,-13,-13,-13,-13,-13,-13,-13,-13,-13,-13,-13,-13,-13,-13,-13,-13,-13,-13,-13,-13,-13,-13,-13,-13,-13],
[-13,-13,-13,-13,-13,-13,-13,-13,-13,-13,-13,-13,-13,-13,-13,-13,-13,-13,-13,-13,-13,-13,-13,-13,-13,-13,-13,-13,-13,-13,-13,-13],
[-13,-13,-13,-13,-13,-13,-13,-13,-13,-13,-13,-13,-13,-13,-13,-13,-13,-13,-13,-13,-13,-13,-13,-13,-13,-13,-13,-13,-13,-13,-13,-13]
];

const labels = ["a", "b", "c", "d", "e", "f"];
const rangesMin = [-29, -24.1, -13.15, -2.67, -2.49, -1.64];
const rangesMax = [32.5, 28.3, 17, 2.78, 2.63, 1.735];
const ticksA = [-20, -10, 0, 10, 20, 30];
const ticksB = [-20, -10, 0, 10, 20];
const ticksC = [-10, -5, 0, 5, 10, 15];
const ticksD = [-2, -1, 0, 1, 2];
const ticksE = [-2, -1, 0, 1, 2];
const ticksF = [-1.5, -1, -0.5, 0, 0.5, 1, 1.5];

const grids = [valuesA, valuesB, valuesC, valuesD, valuesE, valuesF];
const units = [1, 1, 1, 0.1, 0.1, 0.01];
const ticks = [ticksA, ticksB, ticksC, ticksD, ticksE, ticksF];

// colormap : navy - blue - cyan - white - yellow - red - maroon, white at mid range
const color = d3.scaleLinear()
  .domain([0, 0.12, 0.207, 0.368, 0.5, 0.632, 0.793, 0.88, 1])
  .range(["#00004d", "#000090", "#0000ff", "#00ffff", "#ffffff", "#ffff00", "#ff0000", "#900000", "#480000"])
  .clamp(true);

const panelLefts = [29, 1253, 2479];
const barLefts = [710, 1934, 3160];
const labelCenters = [400, 1622, 2846];
const rowTops = [21, 972];
const labelBaselines = [873, 1825];
const size = 661, barWidth = 42, cells = 64;

const svg = d3.select("#chart").append("svg")
  .attr("width", 3270).attr("height", 1866)
  .style("display", "block");

grids.forEach((grid, p) => {
  const left = panelLefts[p % 3], top = rowTops[p < 3 ? 0 : 1];
  const lo = rangesMin[p], hi = rangesMax[p];
  const x = d3.scaleLinear().domain([0, cells]).range([left, left + size]);
  const y = d3.scaleLinear().domain([0, cells]).range([top, top + size]);
  const t = d3.scaleLinear().domain([lo, hi]).range([0, 1]);

  svg.append("rect")
    .attr("x", left).attr("y", top)
    .attr("width", size).attr("height", size)
    .attr("fill", "#5b7c8a");

  // disc of the 64x64 pixel mask, each pixel takes the value of its grid block
  const disc = [];
  d3.range(cells).forEach(r => d3.range(cells).forEach(c => {
    if ((r - 31.5) ** 2 + (c - 31.5) ** 2 < 31.45 ** 2) disc.push({ r, c });
  }));

  svg.append("g").attr("shape-rendering", "crispEdges")
    .selectAll("rect").data(disc).enter().append("rect")
    .attr("x", d => x(d.c))
    .attr("y", d => y(d.r))
    .attr("width", size / cells + 0.5)
    .attr("height", size / cells + 0.5)
    .attr("fill", d => color(t(grid[d.r >> 1][d.c >> 1] * units[p])));

  // colorbar
  const barLeft = barLefts[p % 3];
  const bar = d3.scaleLinear().domain([lo, hi]).range([top + size, top]);
  const steps = d3.range(256).map(i => lo + (hi - lo) * i / 255);
  svg.append("g").attr("shape-rendering", "crispEdges")
    .selectAll("rect").data(steps).enter().append("rect")
    .attr("x", barLeft)
    .attr("y", d => bar(d) - size / 255)
    .attr("width", barWidth)
    .attr("height", size / 255 + 1)
    .attr("fill", d => color(t(d)));

  svg.append("rect")
    .attr("x", barLeft).attr("y", top)
    .attr("width", barWidth).attr("height", size)
    .attr("fill", "none").attr("stroke", "#444").attr("stroke-width", 2.5);

  const axis = d3.axisRight(bar)
    .tickValues(ticks[p])
    .tickFormat(d => String(d))
    .tickSize(-7)
    .tickPadding(9);
  const g = svg.append("g")
    .attr("transform", `translate(${barLeft + barWidth},0)`)
    .call(axis);
  g.select(".domain").remove();
  g.selectAll(".tick line").attr("stroke", "#333").attr("stroke-width", 2);
  g.selectAll(".tick text").attr("font-size", 26);

  // (a) label : parentheses regular, letter bold
  const label = svg.append("text")
    .attr("x", labelCenters[p % 3])
    .attr("y", labelBaselines[p < 3 ? 0 : 1])
    .attr("text-anchor", "middle")
    .attr("font-family", "'Liberation Serif', serif")
    .attr("font-size", 76)
    .attr("fill", "#000");
  label.append("tspan").text("(");
  label.append("tspan").attr("font-weight", "bold").text(labels[p]);
  label.append("tspan").text(")");
});
</script>
</body>
</html>
